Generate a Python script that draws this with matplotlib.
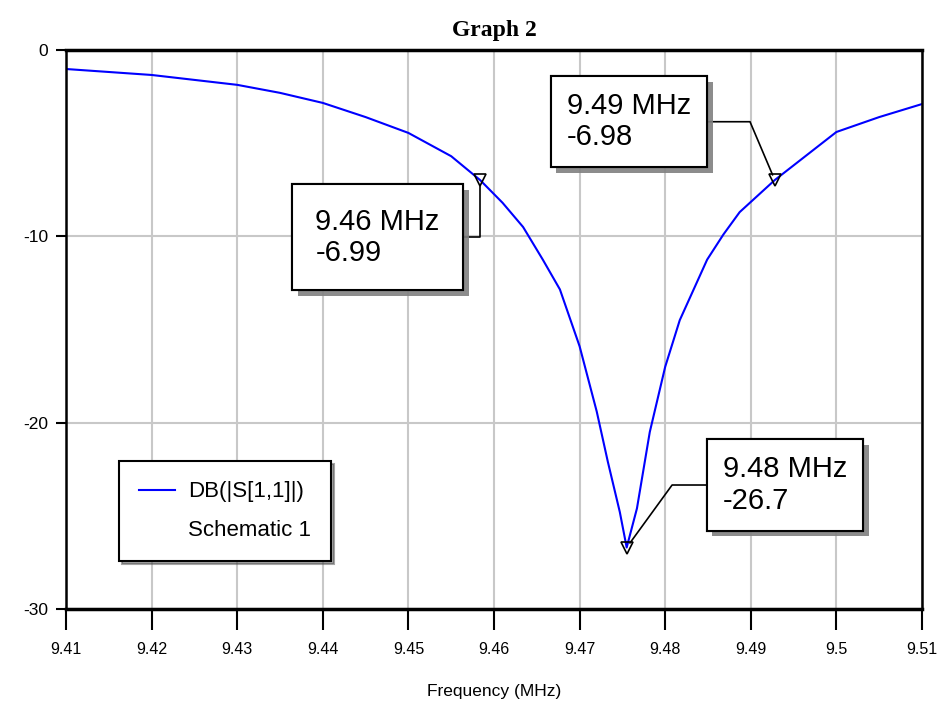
import numpy as np
import matplotlib
matplotlib.use("Agg")
import matplotlib.pyplot as plt
import matplotlib.patheffects as pe

plt.rcParams['font.family'] = ['Liberation Sans', 'DejaVu Sans']
plt.rcParams['axes.unicode_minus'] = False

# S11 trace
freq_mhz = [9.41, 9.42, 9.43, 9.435, 9.44, 9.445, 9.45, 9.455, 9.4584, 9.461,
            9.4634, 9.4657, 9.4677, 9.47, 9.472, 9.4733, 9.4747, 9.4755, 9.4767,
            9.4782, 9.48, 9.4817, 9.4849, 9.4868, 9.4887, 9.4928, 9.50, 9.505, 9.51]
s11_db = [-1.02, -1.34, -1.87, -2.3, -2.84, -3.6, -4.45, -5.7, -6.99, -8.2,
          -9.5, -11.25, -12.85, -15.9, -19.4, -22.1, -24.8, -26.7, -24.6,
          -20.5, -17.0, -14.5, -11.25, -9.9, -8.7, -6.98, -4.4, -3.6, -2.9]

# markers
marker_freq = [9.4584, 9.4928, 9.4755]
marker_db = [-6.99, -6.98, -26.7]
marker_text = ["9.46 MHz\n-6.99", "9.49 MHz\n-6.98", "9.48 MHz\n-26.7"]

xticks = [9.41, 9.42, 9.43, 9.44, 9.45, 9.46, 9.47, 9.48, 9.49, 9.5, 9.51]
xtick_labels = ["9.41", "9.42", "9.43", "9.44", "9.45", "9.46", "9.47", "9.48", "9.49", "9.5", "9.51"]
yticks = [0, -10, -20, -30]

fig = plt.figure(figsize=(9.42, 7.04), dpi=100)
ax = fig.add_axes([66 / 942, 1 - 609 / 704, 856 / 942, 559 / 704])

line, = ax.plot(freq_mhz, s11_db, color='#0000ff', lw=1.5)
ax.plot(marker_freq, marker_db, 'v', ms=8, mfc='none', mec='black', mew=1.2)

ax.set_xlim(9.41, 9.51)
ax.set_ylim(-30, 0)
ax.set_xticks(xticks)
ax.set_xticklabels(xtick_labels)
ax.set_yticks(yticks)
ax.grid(True, color='#c8c8c8', lw=1.5)
ax.set_axisbelow(True)
for side in ['top', 'bottom']:
    ax.spines[side].set_linewidth(2.5)
for side in ['left', 'right']:
    ax.spines[side].set_linewidth(1.8)
ax.tick_params(axis='x', direction='out', length=15, width=1.5, labelsize=11.5, pad=9)
ax.tick_params(axis='y', direction='out', length=7, width=1.5, labelsize=12.5, pad=6)

ax.set_title("Graph 2", family='Liberation Serif', fontweight='bold', fontsize=17, pad=10)
ax.set_xlabel("Frequency (MHz)", fontsize=12.5, labelpad=19)

# marker labels with elbow leaders
offsets = [(-74, -41), (-105, 42), (114, 45)]
pads = [0.8, 0.55, 0.55]
conns = ["angle,angleA=0,angleB=90,rad=0",
         "angle,angleA=0,angleB=113,rad=0",
         "angle,angleA=0,angleB=54,rad=0"]
for fx, fy, txt, off, pad, cs in zip(marker_freq, marker_db, marker_text, offsets, pads, conns):
    ann = ax.annotate(txt, xy=(fx, fy), xytext=off, textcoords='offset points',
                      ha='center', va='center', multialignment='left', fontsize=21,
                      linespacing=1.15,
                      bbox=dict(boxstyle='square,pad=%s' % pad, fc='white', ec='black', lw=1.5),
                      arrowprops=dict(arrowstyle='-', color='black', lw=1.2,
                                      connectionstyle=cs, shrinkA=0, shrinkB=4))
    ann.get_bbox_patch().set_path_effects([
        pe.withSimplePatchShadow(offset=(4, -4), shadow_rgbFace='#808080', alpha=0.9),
        pe.Normal()])

blank, = ax.plot([], [], color='none')
leg = ax.legend([line, blank], ["DB(|S[1,1]|)", "Schematic 1"],
                loc='upper left', bbox_to_anchor=(0.062, 0.264), borderaxespad=0,
                fontsize=16, frameon=True, fancybox=False, shadow=True,
                handlelength=1.6, handletextpad=0.6, labelspacing=0.8, borderpad=0.9)
leg.get_frame().set_edgecolor('black')
leg.get_frame().set_linewidth(1.5)

fig.savefig("out.png", dpi=100)
